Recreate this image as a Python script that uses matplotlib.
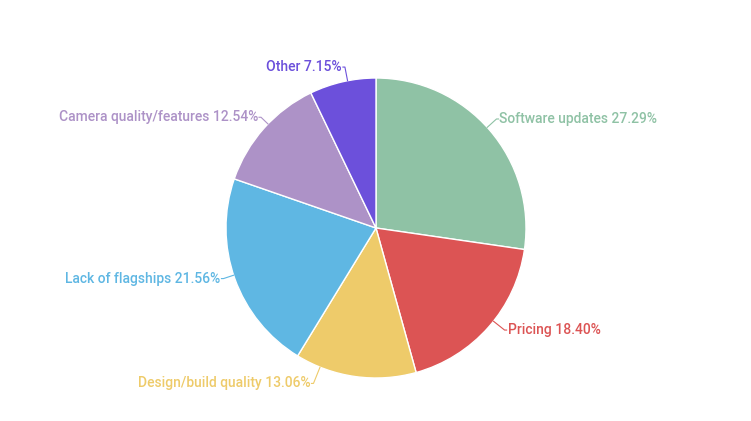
#!/usr/bin/env python3
"""Pie chart: reasons for leaving, by share of responses."""

import numpy as np
import matplotlib

matplotlib.use("Agg")
import matplotlib.pyplot as plt

categories = [
    "Software updates",
    "Pricing",
    "Design/build quality",
    "Lack of flagships",
    "Camera quality/features",
    "Other",
]
shares = [27.29, 18.40, 13.06, 21.56, 12.54, 7.15]
colors = ["#8fc2a5", "#dc5454", "#eecb6a", "#5fb7e3", "#ad92c7", "#6c50db"]

# pixel layout of the 751x421 canvas
CENTER = (376, 421 - 228)
RADIUS = 150
# small manual nudges (px) of each label elbow away from its default spot
label_nudge = [(-2, 3), (7, 5), (-40, 5), (0, 4), (6, 3), (5, 3)]

plt.rcParams["font.family"] = ["Roboto", "DejaVu Sans"]

fig = plt.figure(figsize=(7.51, 4.21), dpi=100)
ax = fig.add_axes([0, 0, 1, 1])

wedges, _ = ax.pie(
    shares,
    colors=colors,
    startangle=90,
    counterclock=False,
    center=CENTER,
    radius=RADIUS,
    wedgeprops={"edgecolor": "white", "linewidth": 1},
    frame=True,
)
ax.set_xlim(0, 751)
ax.set_ylim(0, 421)
ax.set_aspect("equal")
ax.axis("off")

for wedge, name, value, color, (nx, ny) in zip(wedges, categories, shares, colors, label_nudge):
    mid = np.deg2rad((wedge.theta1 + wedge.theta2) / 2)
    dx, dy = np.cos(mid), np.sin(mid)
    elbow = np.array([CENTER[0] + (RADIUS + 12) * dx + nx, CENTER[1] + (RADIUS + 12) * dy + ny])
    # leader starts on the rim, in the direction of the (nudged) elbow
    toward = elbow - np.array(CENTER)
    edge = np.array(CENTER) + RADIUS * toward / np.hypot(*toward)
    side = 1 if dx >= 0 else -1
    end = (elbow[0] + 2 * side, elbow[1])
    ax.plot(
        [edge[0], elbow[0], end[0]],
        [edge[1], elbow[1], end[1]],
        color=color,
        linewidth=0.8,
    )
    ax.text(
        end[0] + 1 * side,
        end[1],
        f"{name} {value:.2f}%",
        color=color,
        fontsize=10,
        fontweight="medium",
        ha="left" if side > 0 else "right",
        va="center",
    )

fig.savefig("out.png", dpi=100, facecolor="white")
